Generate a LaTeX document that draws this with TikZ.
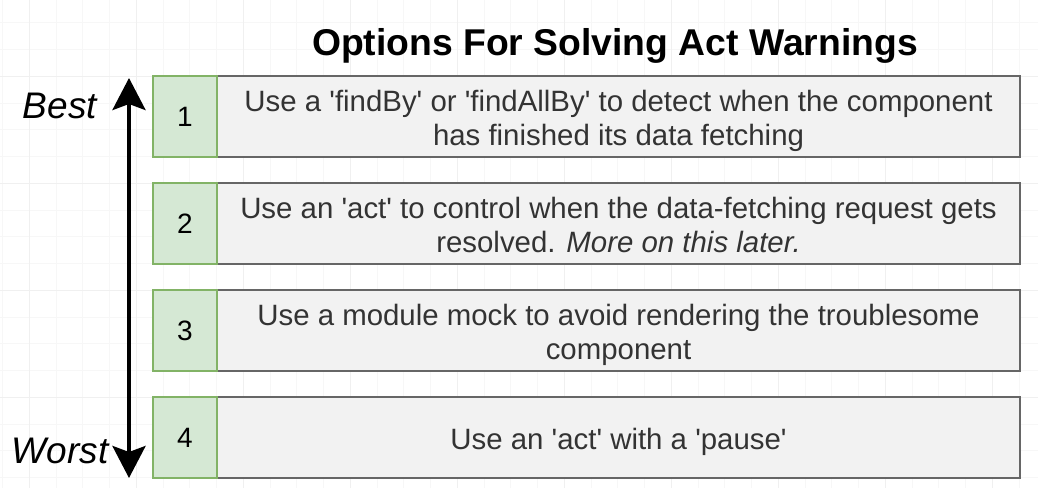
\documentclass[tikz,border=0pt]{standalone}
\usepackage{fontspec}
\setmainfont{Liberation Sans}
\usetikzlibrary{positioning,arrows.meta}

\definecolor{boxgray}{HTML}{F2F2F2}
\definecolor{boxline}{HTML}{666666}
\definecolor{numfill}{HTML}{D5E8D4}
\definecolor{numline}{HTML}{82B366}
\definecolor{bodytext}{HTML}{333333}
\definecolor{gridmin}{HTML}{F7F7F7}
\definecolor{gridmaj}{HTML}{F0F0F0}

\newcommand{\sq}{\textquotesingle}
\newcommand{\optop}{\rule{0pt}{30pt}}
\newcommand{\optbot}{\rule[-6.5pt]{0pt}{0pt}}

\begin{document}
\begin{tikzpicture}[
                x=1pt,y=-1pt,
                gridline/.style={draw=#1,line width=0.7pt},
                optbox/.style={draw=boxline,fill=boxgray,line width=2pt,
                    minimum width=803pt,minimum height=81pt,inner sep=0pt,outer sep=0pt,
                    align=center,text=bodytext,font=\fontsize{29.4}{33.5}\selectfont},
                numbox/.style={draw=numline,fill=numfill,line width=1.5pt,
                    minimum width=64pt,minimum height=81pt,inner sep=0pt,outer sep=0pt,
                    font=\fontsize{28}{33}\selectfont},
                ranklabel/.style={font=\fontsize{37}{44}\selectfont\itshape},
                ranking/.style={line width=4pt,
                    {Stealth[length=32pt,width=33pt,inset=6pt]}-{Stealth[length=32pt,width=33pt,inset=6pt]}}
            ]
                \useasboundingbox (0,0) rectangle (1038,488);
                \fill[white] (0,0) rectangle (1038,488);

                % canvas grid
                \foreach \i in {0,...,38}
                    \draw[gridline=gridmin] (2.55+26.75*\i,0) -- (2.55+26.75*\i,488);
                \foreach \i in {0,...,17}
                    \draw[gridline=gridmin] (0,22.8+26.75*\i) -- (1038,22.8+26.75*\i);
                \foreach \i in {0,...,9}
                    \draw[gridline=gridmaj] (29.3+107*\i,0) -- (29.3+107*\i,488);
                \foreach \i in {0,...,4}
                    \draw[gridline=gridmaj] (0,76.3+107*\i) -- (1038,76.3+107*\i);

                \node[anchor=base,font=\fontsize{37.3}{44}\selectfont\bfseries] (title) at (615,55)
                    {Options For Solving Act Warnings};

                % options
                \node[optbox,anchor=west] (opt1) at (217,116.5)
                    {\optop Use a \sq findBy\sq{} or \sq findAllBy\sq{} to detect when the component\\has finished its data fetching\optbot};
                \node[optbox,below=26pt of opt1] (opt2)
                    {\optop Use an \sq act\sq{} to control when the data-fetching request gets\\resolved. \textit{More on this later.}\optbot};
                \node[optbox,below=26pt of opt2] (opt3)
                    {\optop Use a module mock to avoid rendering the troublesome\\component\optbot};
                \node[optbox,below=26pt of opt3] (opt4)
                    {\optop Use an \sq act\sq{} with a \sq pause\sq\optbot};

                \node[numbox,left=0pt of opt1] (num1) {1};
                \node[numbox,left=0pt of opt2] (num2) {2};
                \node[numbox,left=0pt of opt3] (num3) {3};
                \node[numbox,left=0pt of opt4] (num4) {4};

                % best to worst
                \coordinate (best) at (129,78);
                \coordinate (worst) at (129,478);
                \draw[ranking] (worst) -- (best);
                \node[ranklabel] (bestlabel) at (60,106) {Best};
                \node[ranklabel] (worstlabel) at (60,451) {Worst};
            \end{tikzpicture}
\end{document}
